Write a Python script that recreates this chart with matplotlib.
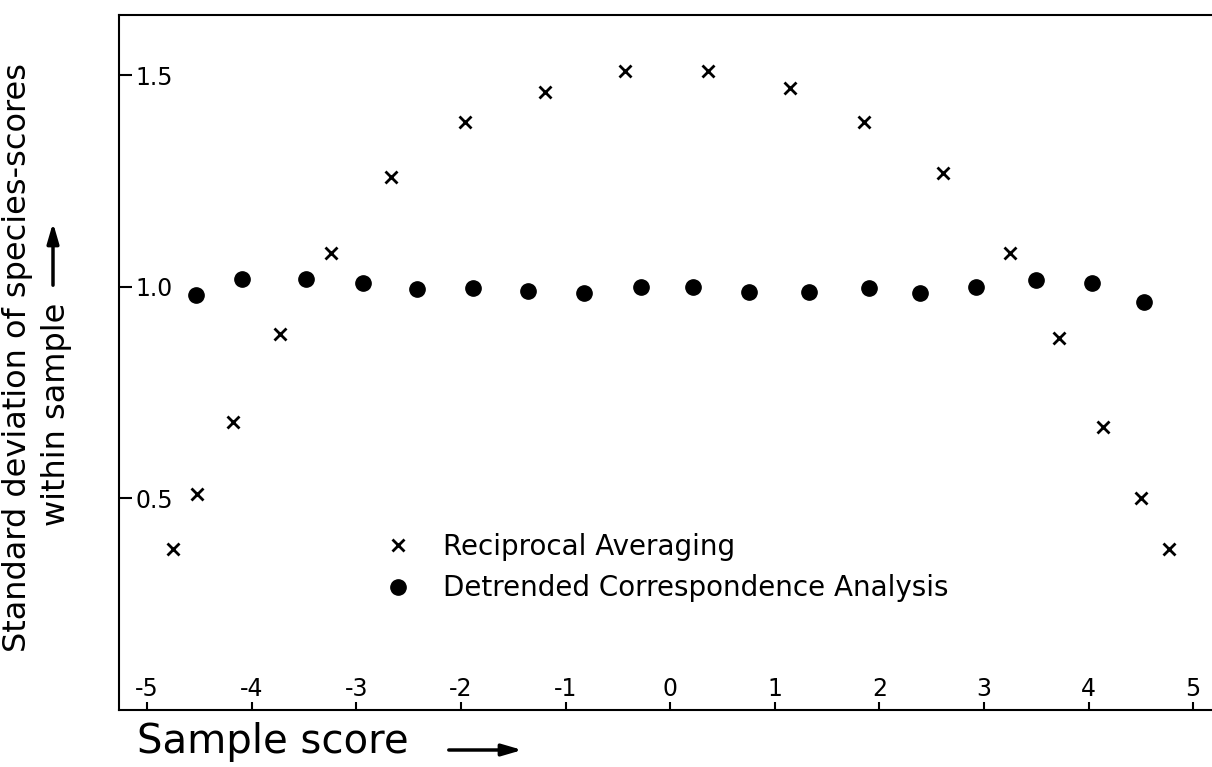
import numpy as np
import matplotlib.pyplot as plt

# Reciprocal averaging (crosses)
ra_x = [-4.75, -4.52, -4.18, -3.73, -3.24, -2.67, -1.96, -1.20, -0.43,
        0.36, 1.15, 1.85, 2.61, 3.25, 3.72, 4.14, 4.50, 4.77]
ra_y = [0.38, 0.51, 0.68, 0.89, 1.08, 1.26, 1.39, 1.46, 1.51,
        1.51, 1.47, 1.39, 1.27, 1.08, 0.88, 0.67, 0.50, 0.38]

# Detrended correspondence analysis (dots)
dca_x = [-4.53, -4.09, -3.48, -2.94, -2.42, -1.89, -1.36, -0.82, -0.28,
         0.22, 0.75, 1.33, 1.90, 2.39, 2.92, 3.50, 4.03, 4.53]
dca_y = [0.98, 1.02, 1.02, 1.01, 0.995, 0.998, 0.99, 0.985, 1.0,
         1.0, 0.987, 0.987, 0.998, 0.985, 1.0, 1.016, 1.01, 0.965]

xticks = [-5, -4, -3, -2, -1, 0, 1, 2, 3, 4, 5]
yticks = [0.5, 1.0, 1.5]
yticklabels = ['0.5', '1.0', '1.5']

plt.rcParams['font.family'] = ['DejaVu Sans']

fig = plt.figure(figsize=(12.12, 7.67), dpi=100)
W, H = 1212, 767
ax = fig.add_axes([119 / W, 1 - 710 / H, 1 - 119 / W, (710 - 15) / H])

ax.plot(ra_x, ra_y, 'x', color='black', markersize=8, mew=2,
        label='Reciprocal Averaging')
ax.plot(dca_x, dca_y, 'o', color='black', markersize=11,
        label='Detrended Correspondence Analysis')

ax.set_xlim(-5.27, 5.18)
ax.set_ylim(0.0, 1.643)

ax.spines['right'].set_visible(False)
for s in ['left', 'top', 'bottom']:
    ax.spines[s].set_linewidth(1.5)

ax.set_xticks(xticks)
ax.set_xticklabels([str(t) for t in xticks])
ax.set_yticks(yticks)
ax.set_yticklabels(yticklabels)
ax.tick_params(axis='x', direction='in', length=6, width=1.5, pad=-24, labelsize=17)
ax.tick_params(axis='y', direction='in', length=9, width=1.5, pad=-12, labelsize=17)
for lab in ax.get_yticklabels():
    lab.set_horizontalalignment('left')

ax.legend(loc='center left', bbox_to_anchor=(0.243, 0.205), frameon=False,
          fontsize=20, handlelength=1.0, handletextpad=1.1, labelspacing=0.5,
          borderpad=0, borderaxespad=0)

# axis titles with arrows
fig.text(18 / W, 1 - 357 / H, 'Standard deviation of species-scores',
         rotation=90, ha='center', va='center', fontsize=23)
fig.text(56 / W, 1 - 414 / H, 'within sample',
         rotation=90, ha='center', va='center', fontsize=23)
fig.text(137 / W, 1 - 742 / H, 'Sample score', ha='left', va='center', fontsize=29)

ax.annotate('', xy=(53 / W, 1 - 220 / H), xytext=(53 / W, 1 - 288 / H),
            xycoords='figure fraction', textcoords='figure fraction',
            arrowprops=dict(arrowstyle='-|>,head_length=1.2,head_width=0.35',
                            color='black', lw=2.5))
ax.annotate('', xy=(525 / W, 1 - 750 / H), xytext=(446 / W, 1 - 750 / H),
            xycoords='figure fraction', textcoords='figure fraction',
            arrowprops=dict(arrowstyle='-|>,head_length=1.2,head_width=0.35',
                            color='black', lw=2.5))

fig.savefig('out.png', dpi=100)
